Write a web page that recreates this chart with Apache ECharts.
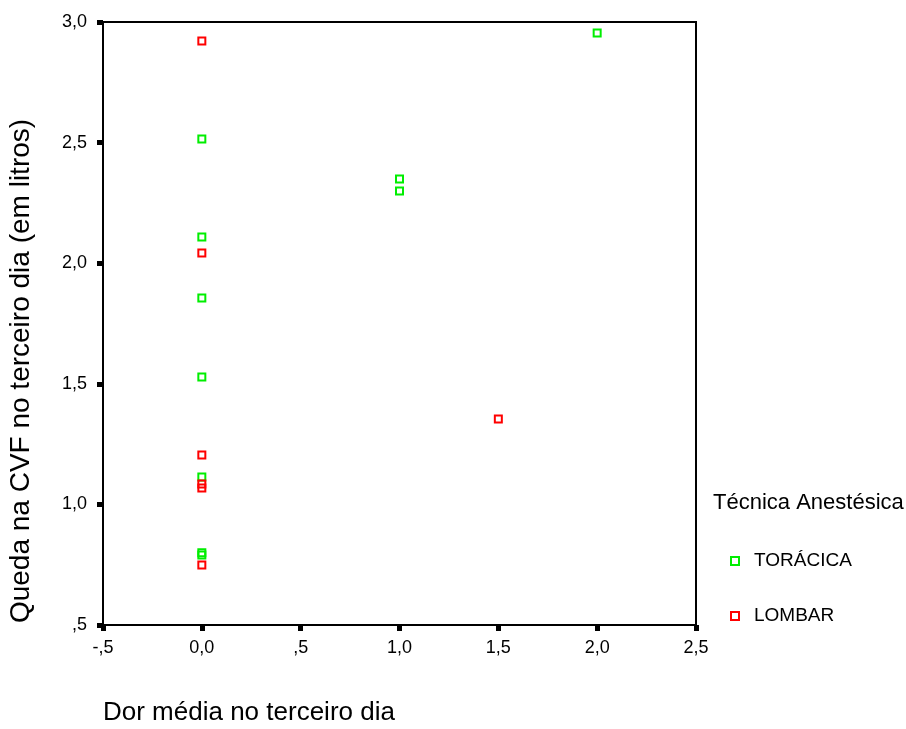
<!DOCTYPE html>
<html>
<head>
<meta charset="utf-8">
<script src="https://cdn.jsdelivr.net/npm/echarts@6/dist/echarts.min.js"></script>
<style>html,body{margin:0;padding:0;background:#fff}#c{width:906px;height:729px}</style>
</head>
<body>
<div id="c"></div>
<script>
var xTitle = 'Dor média no terceiro dia';
var yTitle = 'Queda na CVF no terceiro dia (em litros)';
var legendTitle = 'Técnica Anestésica';
var seriesNames = ['TORÁCICA', 'LOMBAR'];
var toracicaX = [0, 0, 0, 0, 0, 0, 0, 1, 1, 2];
var toracicaY = [2.515, 2.109, 1.856, 1.528, 1.114, 0.80, 0.79, 2.349, 2.299, 2.954];
var lombarX = [0, 0, 0, 0, 0, 0, 1.5];
var lombarY = [2.921, 2.042, 1.205, 1.085, 1.068, 0.749, 1.354];

function pairs(xs, ys) { return xs.map(function (x, i) { return [x, ys[i]]; }); }
function fmt(v) {
  var s = Math.abs(v).toFixed(1).replace('.', ',');
  if (s.charAt(0) === '0' && v !== 0) s = s.substring(1);
  return (v < 0 ? '-' : '') + s;
}
var font = 'Liberation Sans, Arial, sans-serif';
var chart = echarts.init(document.getElementById('c'));
function axisCommon(margin, extra) {
  return {
    axisLine: { show: true, onZero: false, lineStyle: { color: '#000', width: 2 } },
    axisTick: { show: true, inside: false, length: 6, lineStyle: { color: '#000', width: 5 } },
    splitLine: { show: false },
    axisLabel: Object.assign({ color: '#000', fontFamily: font, fontSize: 18, formatter: fmt, margin: margin }, extra || {})
  };
}
chart.setOption({
  animation: false,
  backgroundColor: '#fff',
  grid: { left: 103, top: 22, right: 210, bottom: 104, show: true, borderColor: '#000', borderWidth: 2 },
  xAxis: Object.assign({ type: 'value', min: -0.5, max: 2.5, interval: 0.5 }, axisCommon(14)),
  yAxis: Object.assign({ type: 'value', min: 0.5, max: 3.0, interval: 0.5 }, axisCommon(16, { padding: [3, 0, 0, 0] })),
  legend: {
    orient: 'vertical', left: 725, top: 546,
    itemWidth: 8, itemHeight: 8, itemGap: 35,
    icon: 'rect',
    textStyle: { color: '#000', fontFamily: font, fontSize: 19, lineHeight: 20, padding: [0, 0, 0, 10] },
    data: seriesNames
  },
  graphic: [
    { type: 'text', left: 713, top: 492, style: { text: legendTitle, font: '22px ' + font, fill: '#000' } },
    { type: 'text', left: 103, top: 700, style: { text: xTitle, font: '26px ' + font, fill: '#000' } },
    { type: 'text', x: 21, y: 371, rotation: Math.PI / 2,
      style: { text: yTitle, font: '28px ' + font, fill: '#000', align: 'center', verticalAlign: 'middle' } }
  ],
  series: [
    { name: seriesNames[0], type: 'scatter', symbol: 'rect', symbolSize: 7,
      itemStyle: { color: 'rgba(0,0,0,0)', borderColor: '#00ee00', borderWidth: 2, opacity: 1 },
      data: pairs(toracicaX, toracicaY) },
    { name: seriesNames[1], type: 'scatter', symbol: 'rect', symbolSize: 7,
      itemStyle: { color: 'rgba(0,0,0,0)', borderColor: '#ff0000', borderWidth: 2, opacity: 1 },
      data: pairs(lombarX, lombarY) }
  ]
});
</script>
</body>
</html>
